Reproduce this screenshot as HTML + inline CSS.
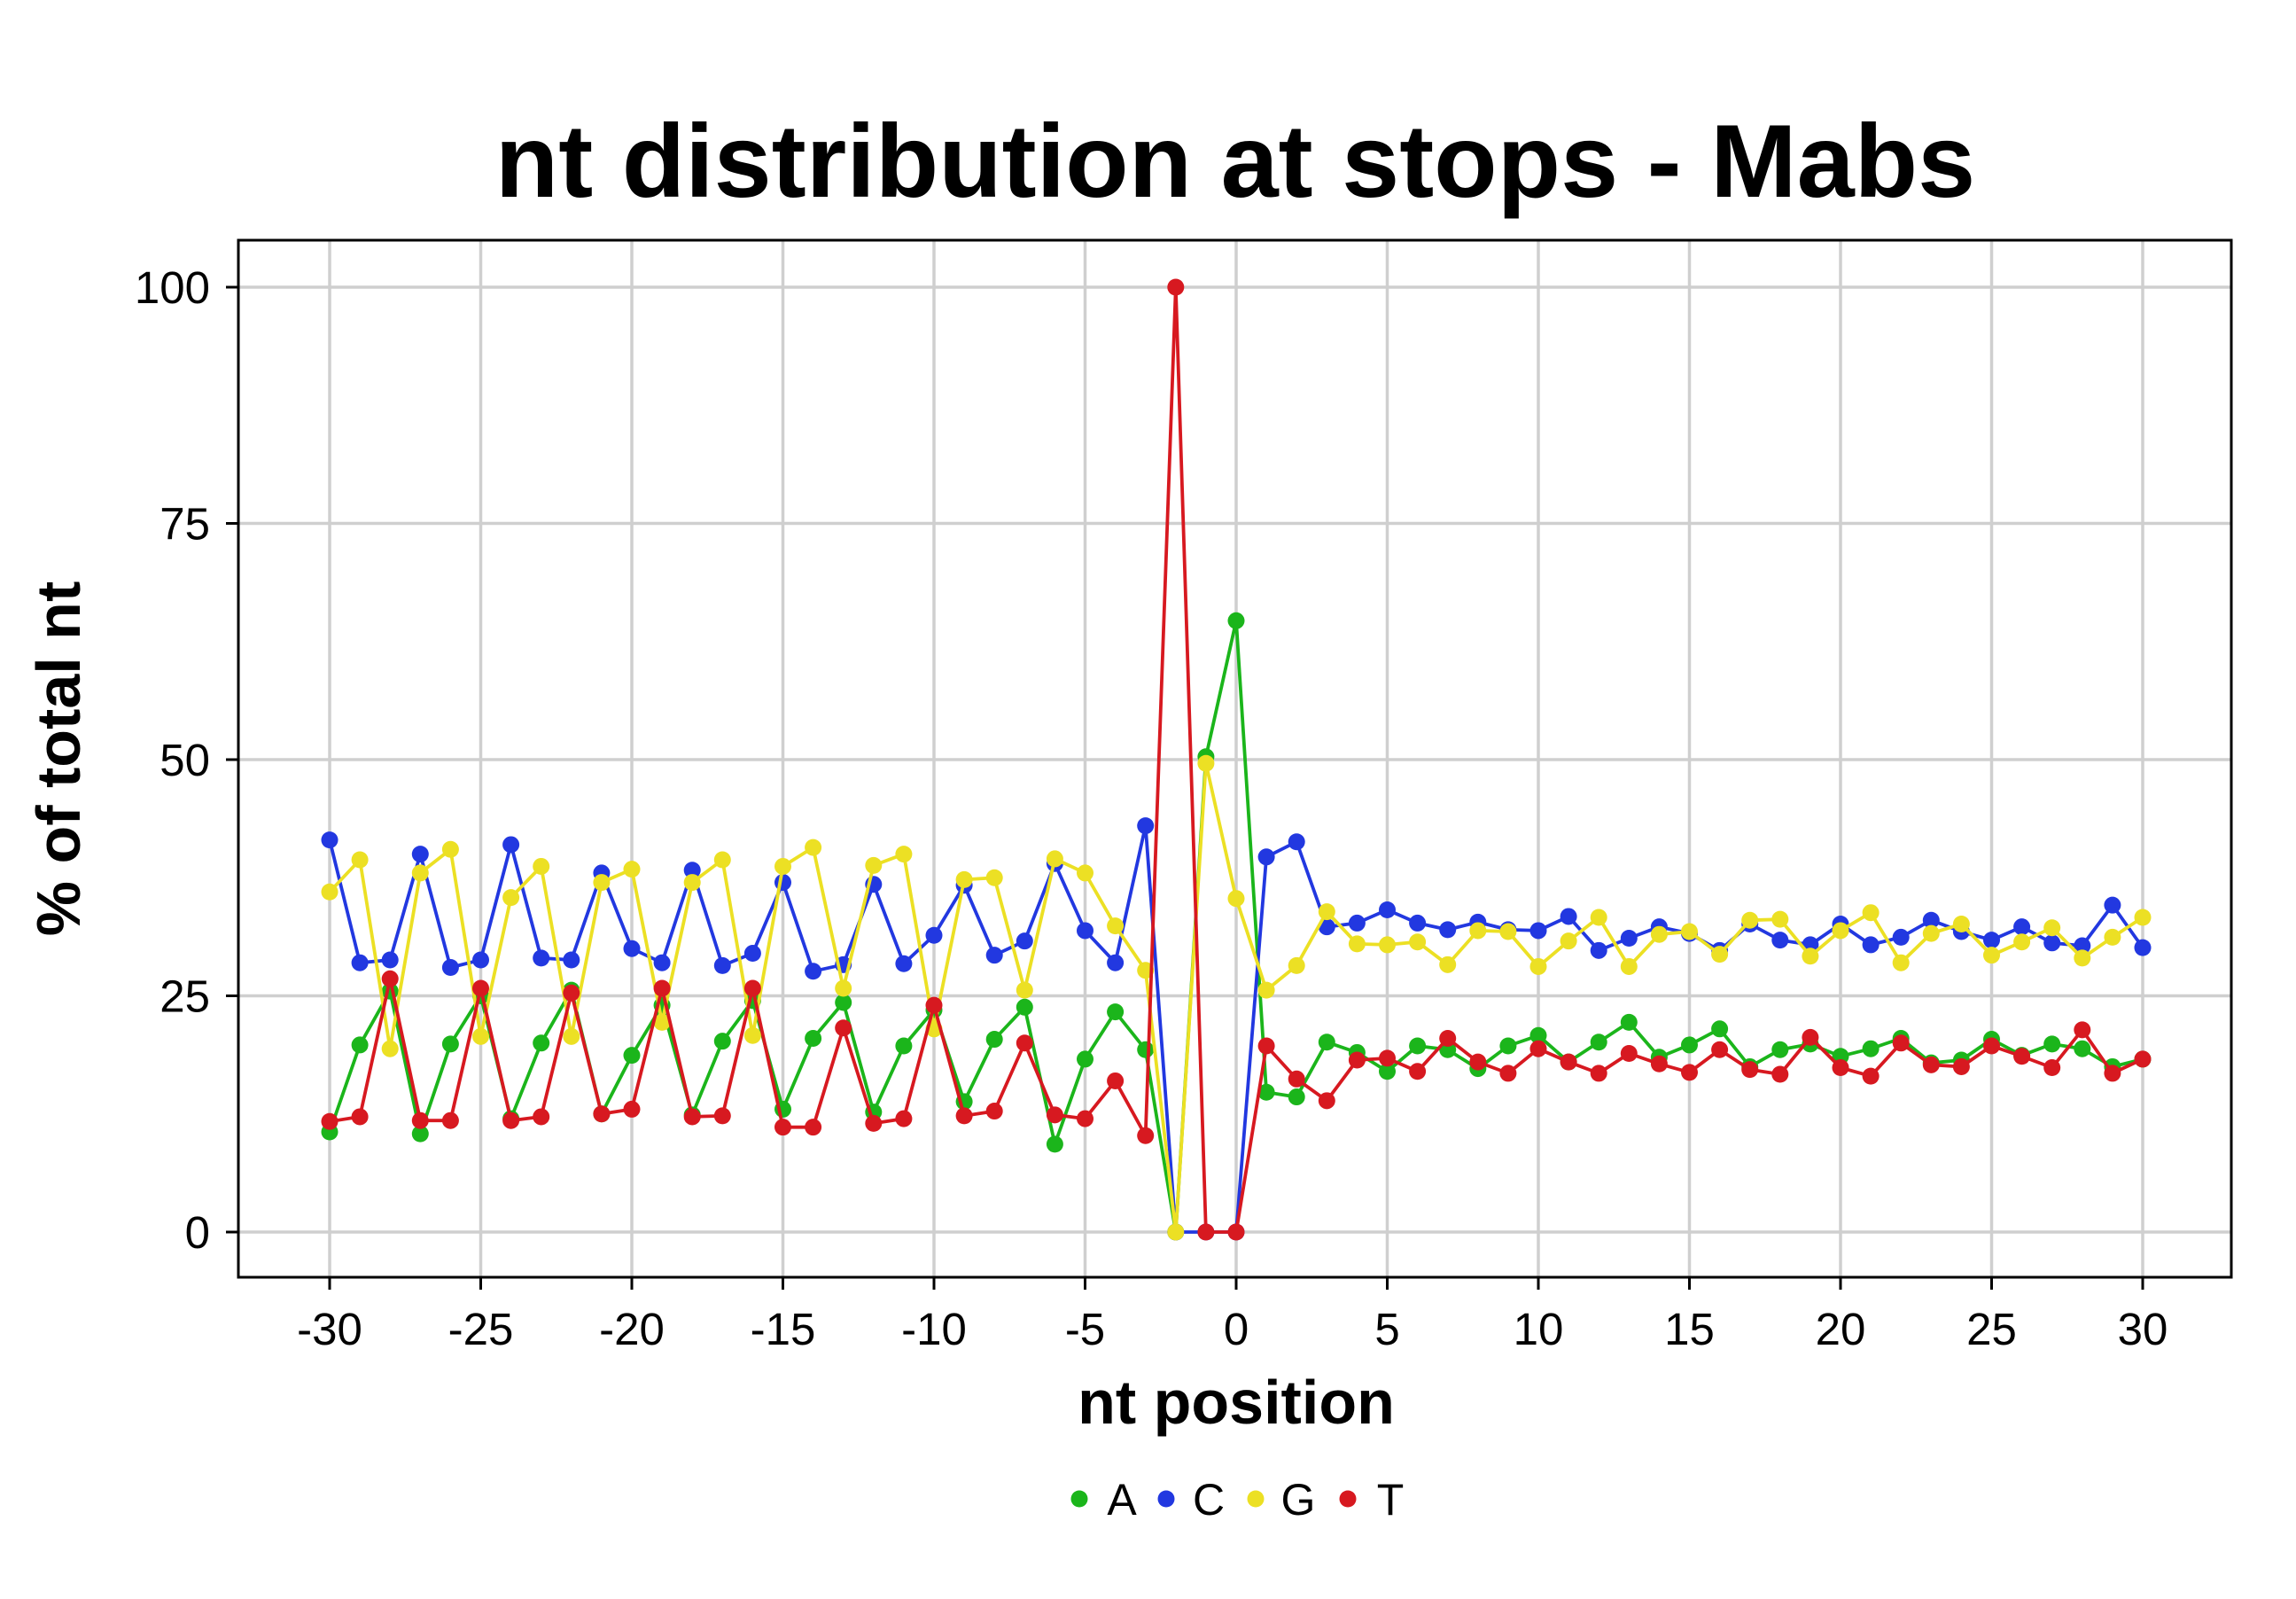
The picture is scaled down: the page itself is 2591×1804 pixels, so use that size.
<!DOCTYPE html>
<html><head><meta charset="utf-8"><style>
html,body{margin:0;padding:0;background:#fff;}
svg{display:block;font-family:"Liberation Sans",Arial,sans-serif;}
</style></head><body>
<svg id="chart" width="2591" height="1804" viewBox="0 0 2591 1804" xmlns="http://www.w3.org/2000/svg">
<rect width="2591" height="1804" fill="#fff"/>
<text x="1394" y="222" text-anchor="middle" font-size="117" font-weight="bold">nt distribution at stops - Mabs</text>
<g id="grid"></g>
<g id="series"></g>
<rect x="269" y="271" width="2249" height="1170" fill="none" stroke="#000" stroke-width="3"/>
<g id="axes"></g>
<text x="1395" y="1606" text-anchor="middle" font-size="70" font-weight="bold">nt position</text>
<text transform="translate(90,856) rotate(-90)" text-anchor="middle" font-size="70" font-weight="bold">% of total nt</text>
<g id="legend"></g>
</svg>
<script>
const positions = [];
for (let p = -30; p <= 30; p++) positions.push(p);
const xTicks = [-30,-25,-20,-15,-10,-5,0,5,10,15,20,25,30];
const yTicks = [0,25,50,75,100];
const seriesNames = ["A","C","G","T"];
const seriesColors = ["#1bb51b","#2238e0","#ece024","#d71920"];
const valuesA = [10.6,19.8,25.5,10.4,19.9,25,12,20,25.6,12.5,18.7,24,12.4,20.2,24.5,13,20.5,24.3,12.7,19.7,23.5,13.8,20.4,23.8,9.3,18.3,23.3,19.3,0,50.3,64.7,14.8,14.3,20.1,19,17,19.7,19.3,17.3,19.7,20.8,18,20.1,22.2,18.5,19.8,21.5,17.5,19.3,19.9,18.6,19.4,20.5,17.9,18.2,20.4,18.7,19.9,19.4,17.5,18.3];
const valuesC = [41.5,28.5,28.8,40,28,28.8,41,29,28.8,38,30,28.5,38.3,28.2,29.5,37,27.6,28.3,36.8,28.4,31.4,36.7,29.3,30.8,39,31.9,28.5,43,0,0,0,39.7,41.3,32.3,32.7,34.1,32.7,32,32.8,32,31.9,33.4,29.8,31.1,32.3,31.6,29.8,32.6,30.9,30.4,32.6,30.4,31.2,33,31.8,30.9,32.3,30.6,30.3,34.6,30.1];
const valuesG = [36,39.4,19.4,38,40.5,20.7,35.4,38.7,20.7,37,38.4,22.2,37,39.4,20.8,38.7,40.7,25.8,38.8,40,21.5,37.3,37.5,25.6,39.5,38,32.4,27.7,0,49.6,35.3,25.6,28.2,33.9,30.5,30.4,30.7,28.3,31.9,31.8,28.1,30.8,33.3,28.1,31.5,31.8,29.4,33,33.1,29.2,31.9,33.8,28.5,31.6,32.6,29.3,30.7,32.2,29,31.2,33.3];
const valuesT = [11.7,12.2,26.8,11.8,11.8,25.8,11.8,12.2,25.3,12.5,13,25.8,12.2,12.3,25.8,11.1,11.1,21.6,11.5,12,24,12.3,12.8,20,12.4,12,16,10.2,100,0,0,19.7,16.2,13.9,18.2,18.4,17,20.5,18,16.8,19.4,18,16.8,18.9,17.8,16.9,19.3,17.2,16.7,20.6,17.4,16.5,20,17.7,17.5,19.7,18.6,17.4,21.4,16.8,18.3];
const allValues = [valuesA, valuesC, valuesG, valuesT];

const NS = "http://www.w3.org/2000/svg";
const X0 = 372, X1 = 2418, Y0 = 1390, Y100 = 324;
const BL = 269, BR = 2518, BT = 271, BB = 1441;
function xs(v){ return X0 + (v + 30) / 60 * (X1 - X0); }
function ys(v){ return Y0 + v / 100 * (Y100 - Y0); }
function mk(tag, attrs, parent){ const e = document.createElementNS(NS, tag); for (const k in attrs) e.setAttribute(k, attrs[k]); parent.appendChild(e); return e; }

const grid = document.getElementById('grid');
const axes = document.getElementById('axes');
xTicks.forEach(t => {
  const l = mk('line', {x1: xs(t), x2: xs(t), y1: BT, y2: BB, stroke: '#cfcfcf', 'stroke-width': 3.5}, grid);
  
  
  const tk = mk('line', {x1: xs(t), x2: xs(t), y1: BB, y2: BB + 14, stroke: '#000', 'stroke-width': 3}, axes);
  
  
  const tx = mk('text', {x: xs(t), y: 1517, 'text-anchor': 'middle', 'font-size': 51}, axes);
  tx.textContent = t;
  
  
});
yTicks.forEach(t => {
  const l = mk('line', {x1: BL, x2: BR, y1: ys(t), y2: ys(t), stroke: '#cfcfcf', 'stroke-width': 3.5}, grid);
  
  
  const tk = mk('line', {x1: BL - 14, x2: BL, y1: ys(t), y2: ys(t), stroke: '#000', 'stroke-width': 3}, axes);
  
  
  const tx = mk('text', {x: 237, y: ys(t) + 18, 'text-anchor': 'end', 'font-size': 51}, axes);
  tx.textContent = t;
  
  
});

const series = document.getElementById('series');
allValues.forEach((vals, si) => {
  const g = mk('g', {}, series);
  
  
  const pts = vals.map((v, i) => xs(positions[i]).toFixed(1) + ',' + ys(v).toFixed(1)).join(' ');
  const pl = mk('polyline', {points: pts, fill: 'none', stroke: seriesColors[si], 'stroke-width': 3.8, 'stroke-linejoin': 'round'}, g);
  
  
  vals.forEach((v, i) => {
    const c = mk('circle', {cx: xs(positions[i]), cy: ys(v), r: 9.5, fill: seriesColors[si]}, g);
    
    
  });
});

const legend = document.getElementById('legend');
const legX = [1218, 1316, 1417, 1521];
seriesNames.forEach((n, i) => {
  const g = mk('g', {}, legend);
  
  
  mk('circle', {cx: legX[i], cy: 1691, r: 9.5, fill: seriesColors[i]}, g);
  const t = mk('text', {x: legX[i] + 48, y: 1709, 'font-size': 50, 'text-anchor': 'middle'}, g);
  t.textContent = n;
});
</script>
</body></html>
